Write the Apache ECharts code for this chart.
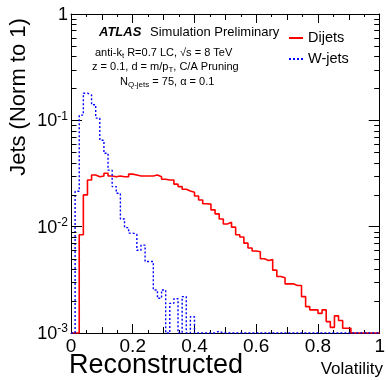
<!DOCTYPE html>
<html>
<head>
<meta charset="utf-8">
<script src="https://cdn.jsdelivr.net/npm/echarts@6/dist/echarts.min.js"></script>
<style>
  html, body { margin: 0; padding: 0; background: #fff; }
  #chart { width: 388px; height: 380px; }
</style>
</head>
<body>
<div id="chart"></div>
<script>
// Histogram: 75 equal bins of volatility between 0 and 1, normalised to unit area.
const binCount = 75;

// Dijets (QCD background), one entry per bin
const dijets = [
  0, 0, 0.0084, 0.0199, 0.0275, 0.0306, 0.0295, 0.0300, 0.0318, 0.0300,
  0.0295, 0.0300, 0.0295, 0.0295, 0.0312, 0.0306, 0.0300, 0.0300, 0.0300, 0.0300,
  0.0306, 0.0295, 0.0279, 0.0275, 0.0275, 0.0251, 0.0238, 0.0225, 0.0217, 0.0211,
  0.0194, 0.0178, 0.0164, 0.0163, 0.0144, 0.0132, 0.0118, 0.0106, 0.0110, 0.0099,
  0.0084, 0.0080, 0.0070, 0.0063, 0.0059, 0.0058, 0.0050, 0.0048, 0.0049, 0.0039,
  0.0034, 0.0033, 0.0029, 0.0029, 0.0028, 0.0028, 0.0022, 0.00177, 0.00165, 0.00165,
  0.00153, 0.00165, 0.00128, 0.00113, 0.00145, 0.00131, 0.00111, 0.00111, 0, 0,
  0, 0, 0, 0, 0
];

// W-jets (signal), one entry per bin
const wjets = [
  0, 0.0215, 0.112, 0.180, 0.173, 0.140, 0.105, 0.065, 0.049, 0.034,
  0.0238, 0.0206, 0.0118, 0.0098, 0.0087, 0.0085, 0.0060, 0.0067, 0.0047, 0.0047,
  0.00254, 0.00212, 0.00254, 0, 0.0019, 0.0021, 0, 0.0022, 0, 0.00142,
  0, 0, 0, 0, 0, 0.00104, 0, 0, 0, 0,
  0, 0, 0, 0, 0, 0, 0, 0, 0, 0,
  0, 0, 0, 0, 0, 0, 0, 0, 0, 0,
  0, 0, 0, 0, 0, 0, 0, 0, 0, 0,
  0, 0, 0, 0, 0
];

const seriesNames = ['Dijets', 'W-jets'];
const xLabelStep = 0.2;          // labelled x ticks: 0, 0.2, ... 1
const yRange = [0.001, 1];        // log-scale y range
const minorDecades = [0.001, 0.01, 0.1];
const minorMultipliers = [2, 3, 4, 5, 6, 7, 8, 9];

const FONT = "'Liberation Sans', Arial, Helvetica, sans-serif";
const RED = '#ff0000';
const BLUE = '#0000ff';

// Turn bin contents into step-line points at the bin edges; empty bins sit on the floor.
function histPoints(values) {
  const pts = values.map((v, i) => [i / binCount, v > 0 ? v : yRange[0]]);
  pts.push([1, pts[pts.length - 1][1]]);
  return pts;
}

const minorTickValues = [];
minorDecades.forEach(d => minorMultipliers.forEach(m => minorTickValues.push([0, d * m])));

const baseX = {
  type: 'value', min: 0, max: 1,
  splitLine: { show: false },
  axisLine: { show: false },
  axisLabel: { show: false }
};
const baseY = {
  type: 'log', logBase: 10, min: yRange[0], max: yRange[1], splitNumber: 3,
  splitLine: { show: false },
  axisLabel: { show: false }
};
const black = { color: '#000', width: 1 };

function richLine(text) {
  return {
    text: text,
    textStyle: { fontWeight: 'normal', rich: {
      n: { fontFamily: FONT, fontSize: 11, fontWeight: 'normal', color: '#000', lineHeight: 15, verticalAlign: 'middle' },
      s: { fontFamily: FONT, fontSize: 8, fontWeight: 'normal', color: '#000', lineHeight: 15, verticalAlign: 'bottom' }
    } }
  };
}

const chart = echarts.init(document.getElementById('chart'), null, { renderer: 'canvas' });

chart.setOption({
  animation: false,
  backgroundColor: '#fff',
  grid: { left: 71, right: 4, top: 14, bottom: 47, containLabel: false },
  xAxis: [
    Object.assign({}, baseX, {
      position: 'bottom', interval: 0.1,
      axisLine: { show: true, onZero: false, lineStyle: black },
      axisTick: { show: true, inside: true, length: 6, lineStyle: black },
      minorTick: { show: true, splitNumber: 2, length: 3, lineStyle: black },
      axisLabel: {
        show: true, margin: 4, color: '#000', fontFamily: FONT, fontSize: 19,
        formatter: v => {
          const k = Math.round(v / 0.1);
          return (k % Math.round(xLabelStep / 0.1) === 0) ? String(+(k * 0.1).toFixed(1)) : '';
        }
      }
    }),
    Object.assign({}, baseX, {
      position: 'bottom', interval: xLabelStep,
      axisTick: { show: true, inside: true, length: 9, lineStyle: black }
    }),
    Object.assign({}, baseX, {
      position: 'top', interval: 0.1,
      axisLine: { show: true, onZero: false, lineStyle: black },
      axisTick: { show: true, inside: true, length: 6, lineStyle: black },
      minorTick: { show: true, splitNumber: 2, length: 3, lineStyle: black }
    }),
    Object.assign({}, baseX, {
      position: 'top', interval: xLabelStep,
      axisTick: { show: true, inside: true, length: 9, lineStyle: black }
    })
  ],
  yAxis: [
    Object.assign({}, baseY, {
      position: 'left',
      axisLine: { show: true, onZero: false, lineStyle: black },
      axisTick: { show: true, inside: true, length: 11, lineStyle: black },
      axisLabel: {
        show: true, margin: 3, color: '#000', fontFamily: FONT,
        formatter: v => {
          const e = Math.round(Math.log10(v));
          return e === 0 ? '{b|1}' : '{b|10}{s|' + e + '}';
        },
        rich: {
          b: { fontSize: 18, fontFamily: FONT, color: '#000', lineHeight: 20, verticalAlign: 'bottom' },
          s: { fontSize: 12, fontFamily: FONT, color: '#000', lineHeight: 12, verticalAlign: 'top' }
        }
      }
    }),
    Object.assign({}, baseY, {
      position: 'right',
      axisLine: { show: true, onZero: false, lineStyle: black },
      axisTick: { show: true, inside: true, length: 11, lineStyle: black }
    })
  ],
  legend: {
    data: [
      { name: seriesNames[0], icon: 'path://M0,0h14v2h-14z' },
      { name: seriesNames[1], icon: 'path://M0,0h2v2h-2zM4,0h2v2h-2zM8,0h2v2h-2zM12,0h2v2h-2z' }
    ],
    orient: 'vertical',
    left: 289, top: 30,
    padding: 0,
    itemWidth: 14, itemHeight: 2, itemGap: 5,
    symbolKeepAspect: false,
    textStyle: { fontFamily: FONT, fontSize: 14.5, color: '#000', lineHeight: 16 }
  },
  title: [
    { text: 'ATLAS', left: 99, top: 26, padding: 0,
      textStyle: { fontFamily: FONT, fontSize: 13, fontStyle: 'italic', fontWeight: 'bold', color: '#000' } },
    { text: 'Simulation Preliminary', left: 150, top: 26, padding: 0,
      textStyle: { fontFamily: FONT, fontSize: 13, fontWeight: 'normal', color: '#000' } },
    Object.assign({ left: 95, top: 45, padding: 0 }, richLine('{n|anti-k}{s|t}{n| R=0.7 LC, \u221As = 8 TeV}')),
    Object.assign({ left: 92, top: 59, padding: 0 }, richLine('{n|z = 0.1, d = m/p}{s|T}{n|, C/A Pruning}')),
    Object.assign({ left: 120, top: 74, padding: 0 }, richLine('{n|N}{s|Q-jets}{n| = 75, \u03B1 = 0.1}')),
    { text: 'Reconstructed', left: 69, top: 352, padding: 0,
      textStyle: { fontFamily: FONT, fontSize: 27, fontWeight: 'normal', color: '#000' } },
    { text: 'Volatility', right: 5, top: 361, padding: 0,
      textStyle: { fontFamily: FONT, fontSize: 17, fontWeight: 'normal', color: '#000' } }
  ],
  graphic: [
    { type: 'text', x: 19, y: 97, rotation: Math.PI / 2,
      style: { text: 'Jets (Norm to 1)', font: '22px ' + FONT, fill: '#000',
               align: 'center', verticalAlign: 'middle' } }
  ],
  series: [
    {
      name: seriesNames[0], type: 'line', step: 'end', symbol: 'none',
      xAxisIndex: 0, yAxisIndex: 0,
      data: histPoints(dijets),
      lineStyle: { color: RED, width: 1.6 },
      itemStyle: { color: RED },
      z: 3
    },
    {
      name: seriesNames[1], type: 'line', step: 'end', symbol: 'none',
      xAxisIndex: 0, yAxisIndex: 0,
      data: histPoints(wjets),
      lineStyle: { color: BLUE, width: 1.4, type: [2, 2] },
      itemStyle: { color: BLUE },
      z: 4
    },
    {
      // minor log ticks (2..9 per decade) on both vertical frame edges
      type: 'custom', xAxisIndex: 0, yAxisIndex: 0, silent: true, z: 5,
      data: minorTickValues,
      renderItem: (params, api) => {
        const v = api.value(1);
        const l = api.coord([0, v]);
        const r = api.coord([1, v]);
        const y = Math.round(l[1]) + 0.5;
        return {
          type: 'group',
          children: [
            { type: 'line', shape: { x1: l[0], y1: y, x2: l[0] + 5.5, y2: y }, style: { stroke: '#000', lineWidth: 1 } },
            { type: 'line', shape: { x1: r[0] - 5.5, y1: y, x2: r[0], y2: y }, style: { stroke: '#000', lineWidth: 1 } }
          ]
        };
      }
    }
  ]
});
</script>
</body>
</html>
